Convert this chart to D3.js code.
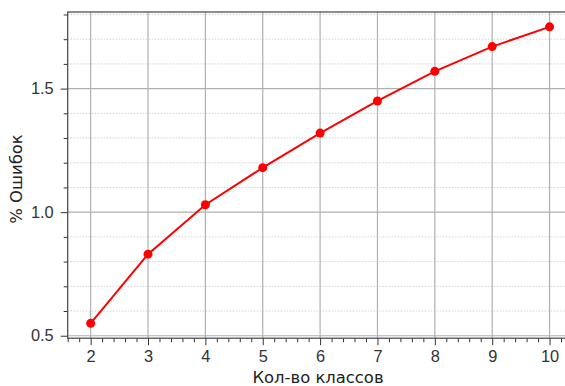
<!DOCTYPE html>
<html>
<head>
<meta charset="utf-8">
<script src="https://cdn.jsdelivr.net/npm/d3@7"></script>
<style>
  body { margin: 0; background: #fff; }
  svg { display: block; font-family: "DejaVu Sans", sans-serif; }
</style>
</head>
<body>
<div id="chart"></div>
<script>
// number of classes vs. error percentage
const classes = [2, 3, 4, 5, 6, 7, 8, 9, 10];
const errors = [0.55, 0.83, 1.03, 1.18, 1.32, 1.45, 1.57, 1.67, 1.75];
const yMajorTicks = [0.5, 1.0, 1.5];
const xLabel = 'Кол-во классов';
const yLabel = '% Ошибок';

const width = 565, height = 386;
const plotL = 67.7, plotR = 572.5, plotT = 12, plotB = 338.2;
const fontSize = '16.4px';

const svg = d3.select('#chart').append('svg')
  .attr('width', width)
  .attr('height', height);

const x = d3.scaleLinear().domain([1.6, 10.4]).range([plotL, plotR]);
const y = d3.scaleLinear().domain([0.49, 1.81]).range([plotB, plotT]);

const xMinor = d3.range(1.6, 10.41, 0.2).filter(v => Math.abs(v - Math.round(v)) > 1e-6);
const yMinor = d3.range(0.5, 1.81, 0.1).filter(v => Math.abs(v * 2 - Math.round(v * 2)) > 1e-6);

// minor grid (horizontal only, dotted)
svg.append('g').selectAll('line').data(yMinor).join('line')
  .attr('x1', plotL).attr('x2', plotR)
  .attr('y1', d => y(d)).attr('y2', d => y(d))
  .attr('stroke', '#c8c8c8').attr('stroke-width', 0.8)
  .attr('stroke-dasharray', '1.5,1.5');

// major grid
svg.append('g').selectAll('line').data(yMajorTicks).join('line')
  .attr('x1', plotL).attr('x2', plotR)
  .attr('y1', d => y(d)).attr('y2', d => y(d))
  .attr('stroke', '#b0b0b0').attr('stroke-width', 1.2);
svg.append('g').selectAll('line').data(classes).join('line')
  .attr('x1', d => x(d)).attr('x2', d => x(d))
  .attr('y1', plotT).attr('y2', plotB)
  .attr('stroke', '#b0b0b0').attr('stroke-width', 1.2);

// axes
svg.append('g').attr('transform', `translate(0,${plotB})`)
  .call(d3.axisBottom(x).tickValues(classes).tickFormat(d3.format('d')).tickSize(7).tickPadding(5));
svg.append('g').attr('transform', `translate(0,${plotB})`)
  .call(d3.axisBottom(x).tickValues(xMinor).tickFormat('').tickSize(4));

svg.append('g').attr('transform', `translate(${plotL},0)`)
  .call(d3.axisLeft(y).tickValues(yMajorTicks).tickFormat(d3.format('.1f')).tickSize(7).tickPadding(7));
svg.append('g').attr('transform', `translate(${plotL},0)`)
  .call(d3.axisLeft(y).tickValues(yMinor).tickFormat('').tickSize(4));

svg.selectAll('.tick line').attr('stroke', '#333').attr('stroke-width', 1);
svg.selectAll('.domain').remove();
svg.selectAll('.tick text').attr('fill', '#333').style('font-size', fontSize);

// spines
svg.append('rect')
  .attr('x', plotL).attr('y', plotT)
  .attr('width', plotR - plotL).attr('height', plotB - plotT)
  .attr('fill', 'none').attr('stroke', '#444').attr('stroke-width', 1.2);

// series
const line = d3.line().x((d, i) => x(classes[i])).y(d => y(d));
svg.append('path').datum(errors)
  .attr('d', line)
  .attr('fill', 'none').attr('stroke', '#ff0000').attr('stroke-width', 2);
svg.append('g').selectAll('circle').data(errors).join('circle')
  .attr('cx', (d, i) => x(classes[i])).attr('cy', d => y(d))
  .attr('r', 4.5).attr('fill', '#ff0000');

// labels
svg.append('text')
  .attr('x', 318).attr('y', 383)
  .attr('text-anchor', 'middle')
  .attr('fill', '#222').style('font-size', fontSize)
  .text(xLabel);
svg.append('text')
  .attr('transform', `translate(22,179) rotate(-90)`)
  .attr('text-anchor', 'middle')
  .attr('fill', '#222').style('font-size', fontSize)
  .text(yLabel);
</script>
</body>
</html>
